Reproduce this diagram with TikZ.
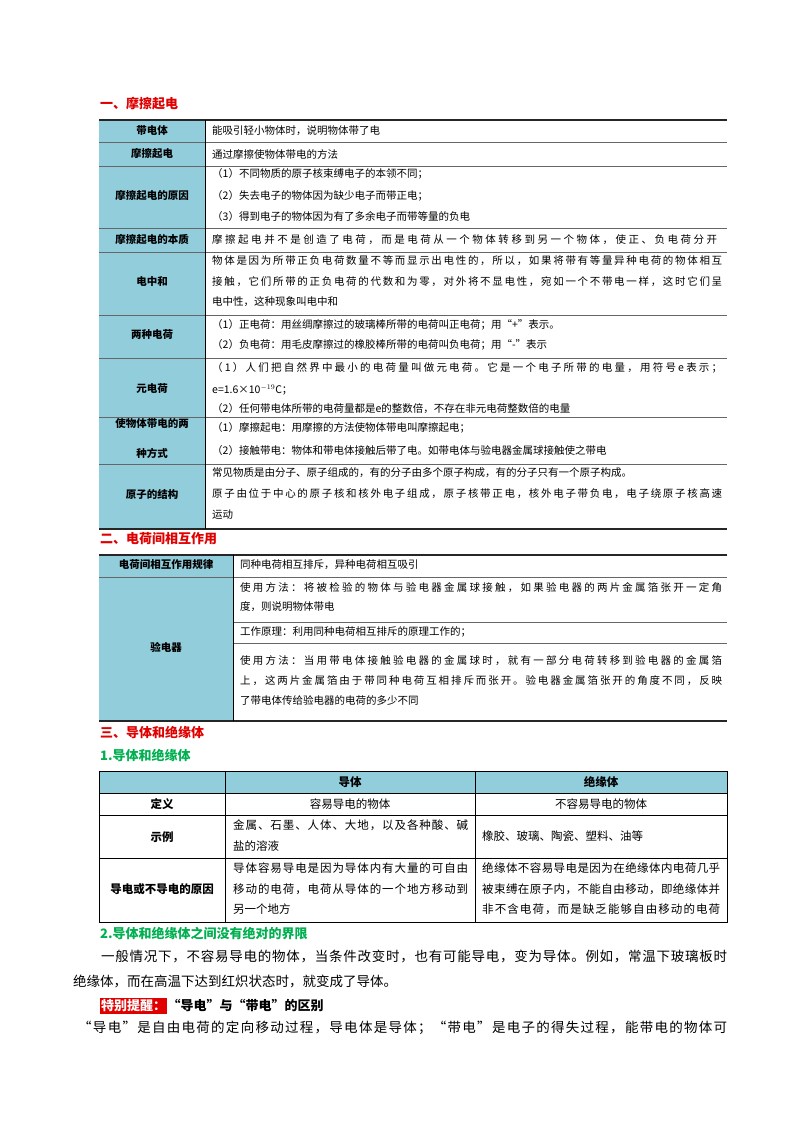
\documentclass[tikz,border=0pt]{standalone}
\usepackage{fontspec}
\setmainfont{Noto Sans CJK SC}
\def\spr#1{\ifx\relax#1\else#1\hskip0pt plus1fil\relax\expandafter\spr\fi}
\newcommand\jl[2]{\hbox to #1pt{\spr#2\relax\unskip}}
\definecolor{lab}{HTML}{92CDDC}
\definecolor{hred}{HTML}{E00000}
\definecolor{hgreen}{HTML}{00B050}
\tikzset{
  lb/.style={font=\fontsize{10.5}{12}\selectfont\bfseries,align=center,inner sep=0pt},
  tx/.style={font=\fontsize{10.5}{12}\selectfont,anchor=west,inner sep=0pt},
  tx3/.style={font=\fontsize{11.5}{13}\selectfont,anchor=west,inner sep=0pt},
  lb3/.style={font=\fontsize{11.5}{13}\selectfont\bfseries,inner sep=0pt},
  pt/.style={font=\fontsize{13.5}{15}\selectfont,anchor=west,inner sep=0pt},
  hd/.style={font=\fontsize{13}{15}\selectfont\bfseries,text=hred,anchor=west,inner sep=0pt},
  hg/.style={font=\fontsize{13}{15}\selectfont\bfseries,text=hgreen,anchor=west,inner sep=0pt},
  thick1/.style={line width=1.4pt,draw=black!85},
  thin1/.style={line width=0.5pt,draw=black!60},
}
\begin{document}
\begin{tikzpicture}[x=1pt,y=-1pt]
\useasboundingbox[fill=white] (0,0) rectangle (800,1132);
% ---------- section 1
\node[hd] (h1) at (100,104) {一、摩擦起电};
\fill[lab] (99,120) rectangle (205,529);
\foreach \y in {142,166,228,252,315,358,417,464} \draw[thin1] (99,\y) -- (727,\y);
\draw[thick1] (99,120) -- (727,120);
\draw[thick1] (99,529) -- (727,529);
\draw[line width=0.8pt] (205,120) -- (205,529);
\node[lb] (a1) at (152,131) {带电体};
\node[lb] (a2) at (152,154) {摩擦起电};
\node[lb] (a3) at (152,196) {摩擦起电的原因};
\node[lb] (a4) at (152,240) {摩擦起电的本质};
\node[lb] (a5) at (152,282) {电中和};
\node[lb] (a6) at (152,335) {两种电荷};
\node[lb] (a7a) at (152,423) {使物体带电的两};
\node[lb] (a7b) at (152,453) {种方式};
\node[lb] (a8) at (152,494) {原子的结构};
\node[lb] (a9) at (152,389) {元电荷};
\node[tx] (b1) at (212,131) {能吸引轻小物体时，说明物体带了电};
\node[tx] (b2) at (212,154) {通过摩擦使物体带电的方法};
\node[tx] (b3) at (212,174) {（1）不同物质的原子核束缚电子的本领不同；};
\node[tx] (b4) at (212,196) {（2）失去电子的物体因为缺少电子而带正电；};
\node[tx] (b5) at (212,217) {（3）得到电子的物体因为有了多余电子而带等量的负电};
\node[tx] (b6) at (212,240) {\jl{505}{摩擦起电并不是创造了电荷，而是电荷从一个物体转移到另一个物体，使正、负电荷分开}};
\node[tx] (b7) at (212,261) {\jl{510}{物体是因为所带正负电荷数量不等而显示出电性的，所以，如果将带有等量异种电荷的物体相互}};
\node[tx] (b8) at (212,282) {\jl{510}{接触，它们所带的正负电荷的代数和为零，对外将不显电性，宛如一个不带电一样，这时它们呈}};
\node[tx] (b9) at (212,302) {电中性，这种现象叫电中和};
\node[tx] (b10) at (212,325) {（1）正电荷：用丝绸摩擦过的玻璃棒所带的电荷叫正电荷；用“+”表示。};
\node[tx] (b11) at (212,345) {（2）负电荷：用毛皮摩擦过的橡胶棒所带的电荷叫负电荷；用“-”表示};
\node[tx] (b12) at (212,368) {\jl{510}{（1）人们把自然界中最小的电荷量叫做元电荷。它是一个电子所带的电量，用符号e表示；}};
\node[tx] (b13) at (212,390) {e=1.6×10$^{-19}$C；};
\node[tx] (b14) at (212,409) {（2）任何带电体所带的电荷量都是e的整数倍，不存在非元电荷整数倍的电量};
\node[tx] (b15) at (212,428) {（1）摩擦起电：用摩擦的方法使物体带电叫摩擦起电；};
\node[tx] (b16) at (212,451) {（2）接触带电：物体和带电体接触后带了电。如带电体与验电器金属球接触使之带电};
\node[tx] (b17) at (212,473) {常见物质是由分子、原子组成的，有的分子由多个原子构成，有的分子只有一个原子构成。};
\node[tx] (b18) at (212,494) {\jl{510}{原子由位于中心的原子核和核外电子组成，原子核带正电，核外电子带负电，电子绕原子核高速}};
\node[tx] (b19) at (212,515) {运动};
% ---------- section 2
\node[hd] (h2) at (100,539) {二、电荷间相互作用};
\fill[lab] (99,555) rectangle (233,721);
\draw[thin1] (99,577) -- (727,577);
\draw[thin1] (233,622) -- (727,622);
\draw[thin1] (233,643) -- (727,643);
\draw[thick1] (99,555) -- (727,555);
\draw[thick1] (99,721) -- (727,721);
\draw[line width=0.8pt] (233,555) -- (233,721);
\node[lb] (c1) at (166,565) {电荷间相互作用规律};
\node[lb] (c2) at (166,647) {验电器};
\node[tx] (d1) at (240,565) {同种电荷相互排斥，异种电荷相互吸引};
\node[tx] (d2) at (240,588) {\jl{482}{使用方法：将被检验的物体与验电器金属球接触，如果验电器的两片金属箔张开一定角}};
\node[tx] (d3) at (240,607) {度，则说明物体带电};
\node[tx] (d4) at (240,632) {工作原理：利用同种电荷相互排斥的原理工作的；};
\node[tx] (d5) at (240,661) {\jl{482}{使用方法：当用带电体接触验电器的金属球时，就有一部分电荷转移到验电器的金属箔}};
\node[tx] (d6) at (240,681) {\jl{482}{上，这两片金属箔由于带同种电荷互相排斥而张开。验电器金属箔张开的角度不同，反映}};
\node[tx] (d7) at (240,700) {了带电体传给验电器的电荷的多少不同};
% ---------- section 3
\node[hd] (h3) at (100,732) {三、导体和绝缘体};
\node[hg] (h4) at (100,755) {1.导体和绝缘体};
\fill[lab] (99,771) rectangle (727,793);
\draw[line width=0.6pt] (99,771) rectangle (727,922);
\foreach \y in {793,815,858} \draw[line width=0.6pt] (99,\y) -- (727,\y);
\draw[line width=0.6pt] (225,771) -- (225,922);
\draw[line width=0.6pt] (475,771) -- (475,922);
\node[lb3] (e1) at (350,782) {导体};
\node[lb3] (e2) at (601,782) {绝缘体};
\node[lb3] (e3) at (162,804) {定义};
\node[lb3] (e4) at (162,837) {示例};
\node[lb3] (e5) at (162,889) {导电或不导电的原因};
\node[tx3,anchor=center] (f1) at (350,804) {容易导电的物体};
\node[tx3,anchor=center] (f2) at (601,804) {不容易导电的物体};
\node[tx3] (f3) at (233,825) {\jl{235}{金属、石墨、人体、大地，以及各种酸、碱}};
\node[tx3] (f4) at (233,846) {盐的溶液};
\node[tx3] (f5) at (482,836) {橡胶、玻璃、陶瓷、塑料、油等};
\node[tx3] (f6) at (233,868) {\jl{235}{导体容易导电是因为导体内有大量的可自由}};
\node[tx3] (f7) at (233,889) {\jl{235}{移动的电荷，电荷从导体的一个地方移动到}};
\node[tx3] (f8) at (233,909) {另一个地方};
\node[tx3] (f9) at (482,868) {\jl{238}{绝缘体不容易导电是因为在绝缘体内电荷几乎}};
\node[tx3] (f10) at (482,889) {\jl{238}{被束缚在原子内，不能自由移动，即绝缘体并}};
\node[tx3] (f11) at (482,909) {\jl{238}{非不含电荷，而是缺乏能够自由移动的电荷}};
\node[hg] (h5) at (100,933) {2.导体和绝缘体之间没有绝对的界限};
\node[pt] (p1) at (101,956) {\jl{626}{一般情况下，不容易导电的物体，当条件改变时，也有可能导电，变为导体。例如，常温下玻璃板时}};
\node[pt] (p2) at (73,981) {绝缘体，而在高温下达到红炽状态时，就变成了导体。};
\node[font=\fontsize{13}{15}\selectfont\bfseries,text=white,fill=hred,inner xsep=1pt,inner ysep=2pt,anchor=west] (r1) at (100,1006) {特别提醒：};
\node[font=\fontsize{13}{15}\selectfont\bfseries,anchor=west,inner sep=0pt] (r2) at (r1.east) {“导电”与“带电”的区别};
\node[pt] (p3) at (78,1028) {\jl{649}{“导电”是自由电荷的定向移动过程，导电体是导体；“带电”是电子的得失过程，能带电的物体可}};
\end{tikzpicture}
\end{document}
